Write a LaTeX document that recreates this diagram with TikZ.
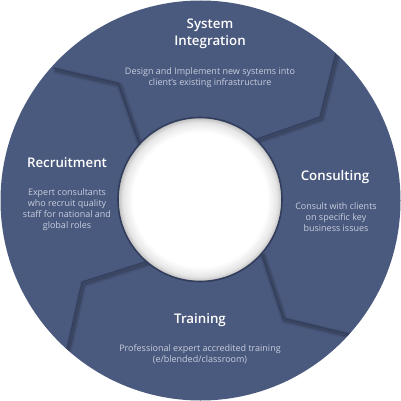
\documentclass[tikz,border=0pt]{standalone}
\usepackage{fontspec}
\setmainfont{Open Sans}[BoldFont={Open Sans Semibold}]
\definecolor{ringcolor}{RGB}{74,89,126}
\definecolor{seamcolor}{RGB}{50,61,92}
\definecolor{desccolor}{RGB}{200,206,222}
% soft inner shadow of the hole: white middle, grey only near the rim
\pgfdeclareradialshading{holeshade}{\pgfpoint{0bp}{0bp}}{color(0bp)=(white); color(20.5bp)=(white); color(23.5bp)=(black!10); color(25bp)=(black!26); color(50bp)=(black!26)}

\tikzset{
  title/.style={text=white, font=\bfseries\fontsize{13.3}{16.5}\selectfont, align=center},
  blurb/.style={text=desccolor, font=\fontsize{9}{11}\selectfont, align=center},
}

\begin{document}
\begin{tikzpicture}[x=1pt, y=-1pt]
  \useasboundingbox (0,0) rectangle (401,401);

  % --- The ring ---
  \fill[ringcolor] (200.5,200.5) circle (200);

  % --- Seams: outer end, kink, inner end of each of the four cuts ---
  \coordinate (tlOut) at (53,68);   \coordinate (tlKink) at (118,83);  \coordinate (tlIn) at (140,146);
  \coordinate (trOut) at (336,53);  \coordinate (trKink) at (320,117); \coordinate (trIn) at (254,140);
  \coordinate (brOut) at (349,334); \coordinate (brKink) at (283,318); \coordinate (brIn) at (261,252);
  \coordinate (blOut) at (67,349);  \coordinate (blKink) at (82,282);  \coordinate (blIn) at (148,261);

  \begin{scope}
    \clip (200.5,200.5) circle (200);
    % blurred shadow, a few wide faint strokes
    \foreach \w/\o in {7/0.05,5/0.07,3/0.10} {
      \foreach \s in {tl,tr,br,bl} {
        \draw[black, opacity=\o, line width=\w pt, line join=round,
              transform canvas={shift={(1.5,2)}}]
          (\s Out) -- (\s Kink) -- (\s In);
      }
    }
    % the crisp seam line
    \foreach \s in {tl,tr,br,bl} {
      \draw[seamcolor, line width=0.9pt, line join=round] (\s Out) -- (\s Kink) -- (\s In);
    }
  \end{scope}

  % --- White hole in the middle, with its dark rim ---
  \shade[shading=holeshade] (200,199.5) circle (82);
  \draw[seamcolor, line width=1.6pt] (200,199.5) circle (82);

  % --- Segment titles and blurbs ---
  \node[title] (sysT) at (210,34) {System\\Integration};
  \node[blurb] (sysD) at (210,77.5) {Design and Implement new systems into\\client's existing infrastructure};

  \node[title] (conT) at (335,177) {Consulting};
  \node[blurb] (conD) at (336,217) {Consult with clients\\on specific key\\business issues};

  \node[title] (recT) at (67,163) {Recruitment};
  \node[blurb] (recD) at (67,210) {Expert consultants\\who recruit quality\\staff for national and\\global roles};

  \node[title] (traT) at (200,320) {Training};
  \node[blurb] (traD) at (200,354.5) {Professional expert accredited training\\(e/blended/classroom)};

\end{tikzpicture}
\end{document}
